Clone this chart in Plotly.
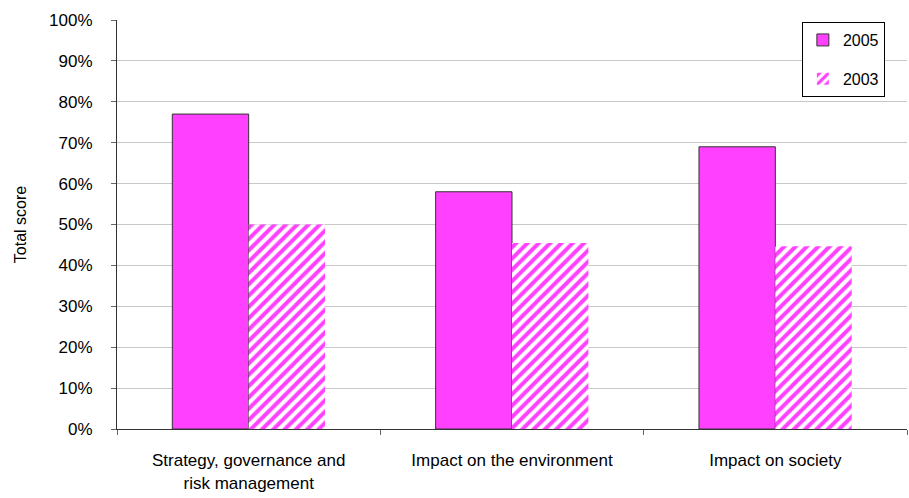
import plotly.graph_objects as go

# Chart data
categories = ["Strategy, governance and<br>risk management", "Impact on the environment", "Impact on society"]
score_2005 = [0.77, 0.58, 0.69]
score_2003 = [0.50, 0.455, 0.447]
y_ticks = [i / 10 for i in range(11)]
y_tick_labels = [f"{i * 10}%" for i in range(11)]

positions = [i + 0.5 for i in range(len(categories))]
magenta = "#FF40FF"

fig = go.Figure()
fig.add_trace(go.Bar(
    x=positions, y=score_2005, name="2005", legendgroup="a",
    marker=dict(color=magenta, line=dict(color="#333333", width=1)),
))
fig.add_trace(go.Bar(
    x=positions, y=score_2003, name="2003", legendgroup="b",
    marker=dict(color="white", line=dict(width=0),
                pattern=dict(shape="/", fgcolor=magenta, bgcolor="white",
                             size=8, solidity=0.5, fillmode="replace")),
))

font_family = "Liberation Sans, Arial, sans-serif"
fig.update_layout(
    width=909, height=498,
    margin=dict(l=117, r=2, t=20, b=69),
    paper_bgcolor="white", plot_bgcolor="white",
    barmode="group", bargap=0.42, bargroupgap=0,
    font=dict(family=font_family, size=17, color="#000000"),
    showlegend=True,
    legend=dict(x=0.972, y=0.995, xanchor="right", yanchor="top",
                bordercolor="#000000", borderwidth=1, bgcolor="white",
                font=dict(size=16), tracegroupgap=15, traceorder="grouped",
                itemwidth=30),
    xaxis=dict(range=[0, 3], tickmode="array", tickvals=positions, ticktext=categories,
               ticks="", showgrid=False, zeroline=False,
               showline=True, linecolor="#333333", linewidth=1,
               ticklabelstandoff=16,
               minor=dict(tick0=0, dtick=1, ticks="outside", ticklen=5,
                          tickcolor="#666666", showgrid=False)),
    yaxis=dict(range=[0, 1], tickmode="array", tickvals=y_ticks, ticktext=y_tick_labels,
               ticks="outside", ticklen=5, tickcolor="#666666",
               ticklabelstandoff=15,
               showgrid=True, gridcolor="#c8c8c8", gridwidth=1, zeroline=False,
               showline=True, linecolor="#333333", linewidth=1,
               title=dict(text="Total score", font=dict(size=16), standoff=18)),
)

fig.write_html("out.html")
